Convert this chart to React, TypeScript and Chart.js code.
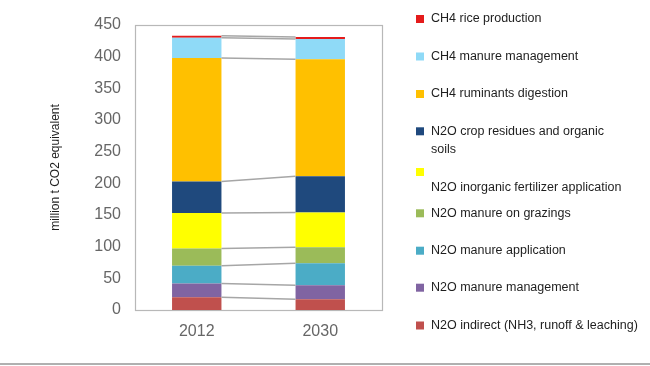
import React, { useEffect, useRef } from 'react';
import { Chart, registerables } from 'chart.js';

Chart.register(...registerables);

const categories = ['2012', '2030'];

// stacked bottom -> top
const n2oIndirect = [20, 17];
const n2oManureManagement = [22, 22];
const n2oManureApplication = [28, 35];
const n2oManureGrazings = [27, 25];
const n2oInorganicFertilizer = [56, 55];
const n2oCropResidues = [50, 57];
const ch4Ruminants = [195, 185];
const ch4ManureManagement = [32, 32];
const ch4Rice = [3, 3];

const seriesLabels = [
  'N2O indirect (NH3, runoff & leaching)',
  'N2O manure management',
  'N2O manure application',
  'N2O manure on grazings',
  'N2O inorganic fertilizer application',
  'N2O crop residues and organic soils',
  'CH4 ruminants digestion',
  'CH4 manure management',
  'CH4 rice production',
];

const seriesColors = [
  '#c0504d',
  '#8064a2',
  '#4bacc6',
  '#9bbb59',
  '#ffff00',
  '#1f497d',
  '#ffc000',
  '#8fdaf7',
  '#e41b1b',
];

const yMin = 0;
const yMax = 450;
const yStep = 50;

const yTitle = 'million t CO2 equivalent';
const FONT = "'Liberation Sans', Arial, sans-serif";

// legend lines, drawn top -> bottom (index into series, text lines)
const legendEntries: { idx: number; lines: string[] }[] = [
  { idx: 8, lines: ['CH4 rice production'] },
  { idx: 7, lines: ['CH4 manure management'] },
  { idx: 6, lines: ['CH4 ruminants digestion'] },
  { idx: 5, lines: ['N2O crop residues and organic', 'soils'] },
  { idx: 4, lines: ['', 'N2O inorganic fertilizer application'] },
  { idx: 3, lines: ['N2O manure on grazings'] },
  { idx: 2, lines: ['N2O manure application'] },
  { idx: 1, lines: ['N2O manure management'] },
  { idx: 0, lines: ['N2O indirect (NH3, runoff & leaching)'] },
];
const legendRowY = [19, 56.5, 94, 131.3, 172, 213.3, 250.7, 287.7, 325.5];
const legendLineGap = [0, 0, 0, 18.7, 15.5, 0, 0, 0, 0];

const decorPlugin = {
  id: 'decor',
  beforeDatasetsDraw(chart: any) {
    const { ctx, chartArea } = chart;
    ctx.save();
    ctx.strokeStyle = '#b8b8b8';
    ctx.lineWidth = 1.2;
    ctx.strokeRect(chartArea.left + 0.5, chartArea.top + 0.5, chartArea.right - chartArea.left, chartArea.bottom - chartArea.top);
    ctx.restore();
  },
  afterDatasetsDraw(chart: any) {
    const { ctx } = chart;
    ctx.save();
    // series lines
    ctx.strokeStyle = '#a6a6a6';
    ctx.lineWidth = 1.5;
    chart.data.datasets.forEach((_: any, d: number) => {
      const meta = chart.getDatasetMeta(d);
      const b0 = meta.data[0];
      const b1 = meta.data[1];
      if (!b0 || !b1) return;
      ctx.beginPath();
      ctx.moveTo(b0.x + b0.width / 2, b0.y);
      ctx.lineTo(b1.x - b1.width / 2, b1.y);
      ctx.stroke();
    });
    ctx.restore();
  },
  afterDraw(chart: any) {
    const { ctx } = chart;
    ctx.save();
    // legend
    ctx.font = `12.5px ${FONT}`;
    ctx.textBaseline = 'middle';
    ctx.textAlign = 'left';
    legendEntries.forEach((e, i) => {
      const y = legendRowY[i];
      ctx.fillStyle = seriesColors[e.idx];
      ctx.fillRect(416, y - 4, 8, 8);
      ctx.fillStyle = '#1e1e1e';
      e.lines.forEach((ln, k) => {
        if (ln) ctx.fillText(ln, 431, y + k * legendLineGap[i]);
      });
    });
    // bottom rule
    ctx.fillStyle = '#b0b0b0';
    ctx.fillRect(0, 363, 650, 2);
    ctx.restore();
  },
};

export default function App() {
  const ref = useRef<HTMLCanvasElement | null>(null);

  useEffect(() => {
    if (!ref.current) return;
    const datasets = [
      n2oIndirect,
      n2oManureManagement,
      n2oManureApplication,
      n2oManureGrazings,
      n2oInorganicFertilizer,
      n2oCropResidues,
      ch4Ruminants,
      ch4ManureManagement,
      ch4Rice,
    ].map((data, i) => ({
      label: seriesLabels[i],
      data,
      backgroundColor: seriesColors[i],
      borderWidth: 0,
      barPercentage: 0.4,
      categoryPercentage: 1,
    }));

    const chart = new Chart(ref.current, {
      type: 'bar',
      data: { labels: categories, datasets },
      plugins: [decorPlugin],
      options: {
        responsive: false,
        animation: false,
        layout: { padding: { left: 0, top: 25, right: 268, bottom: 0 } },
        plugins: {
          legend: { display: false },
          tooltip: { enabled: false },
        },
        scales: {
          x: {
            stacked: true,
            grid: { display: false, drawTicks: false },
            border: { display: false },
            ticks: { color: '#666666', font: { family: FONT, size: 16 }, padding: 12 },
            afterFit(scale: any) {
              scale.height = 56;
            },
          },
          y: {
            stacked: true,
            min: yMin,
            max: yMax,
            grid: { display: false, drawTicks: false },
            border: { display: false },
            ticks: { stepSize: yStep, color: '#666666', font: { family: FONT, size: 16 }, padding: 14 },
            title: {
              display: true,
              text: yTitle,
              color: '#1e1e1e',
              font: { family: FONT, size: 12 },
              padding: { top: 48, bottom: 0 },
            },
            afterFit(scale: any) {
              scale.width = 135;
            },
          },
        },
      },
    });
    return () => chart.destroy();
  }, []);

  return (
    <div style={{ position: 'absolute', left: 0, top: 0, width: 650, height: 366, background: '#fff' }}>
      <canvas ref={ref} width={650} height={366} style={{ display: 'block' }} />
    </div>
  );
}
